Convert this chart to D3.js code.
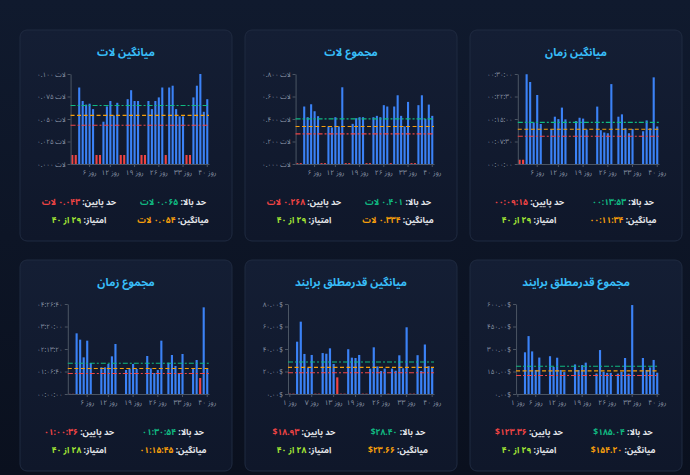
<!DOCTYPE html>
<html>
<head>
<meta charset="utf-8">
<script src="https://cdn.jsdelivr.net/npm/d3@7"></script>
<style>
  html, body { margin: 0; padding: 0; background: #0d1527; }
  svg { display: block; font-family: "Noto Sans Arabic", "Noto Naskh Arabic", "DejaVu Sans", sans-serif; }
</style>
</head>
<body>
<div id="board"></div>
<script>
var svgWidth = 690;
var svgHeight = 475;

// days on the x axis
var dayNums = d3.range(1, 41);

// series values (0 = no trading that day)
var avgTime = [85, 85, 1795, 1640, 830, 1380, 800, 0, 0, 697, 946, 898, 1128, 892, 0, 0, 858, 925, 908, 690, 0, 0,
  1148, 676, 630, 615, 1598, 0, 946, 993, 715, 615, 700, 0, 0, 655, 872, 715, 1733, 750];
var totalLot = [0.008, 0.008, 0.511, 0.416, 0.531, 0.469, 0.425, 0.008, 0.008, 0.334, 0.325, 0.416, 0.334, 0.682, 0.008, 0.008,
  0.357, 0.407, 0.416, 0.416, 0.008, 0.008, 0.416, 0.428, 0.416, 0.523, 0.511, 0.008, 0.511, 0.611, 0.428, 0.334, 0.552,
  0.008, 0.008, 0.523, 0.611, 0.401, 0.528, 0.428];
var avgLot = [0.010, 0.010, 0.085, 0.070, 0.066, 0.067, 0.061, 0.010, 0.010, 0.047, 0.064, 0.070, 0.054, 0.068, 0.010, 0.010,
  0.072, 0.082, 0.070, 0.070, 0.010, 0.010, 0.070, 0.061, 0.070, 0.074, 0.085, 0.010, 0.085, 0.087, 0.061, 0.053, 0.053,
  0.010, 0.010, 0.074, 0.087, 0.100, 0.058, 0.072];
var totalAbs = [0, 0, 278, 386, 284, 160, 243, 0, 0, 252, 180, 242, 160, 146, 0, 0, 197, 160, 193, 209, 0, 0,
  137, 293, 148, 141, 141, 0, 136, 148, 240, 136, 593, 0, 0, 240, 160, 177, 227, 142];
var avgAbs = [0.3, 0.3, 46.5, 64.3, 35.6, 23.2, 34.7, 0.3, 0.3, 36.4, 35.8, 40.6, 26.7, 14.8, 0.3, 0.3, 39.8, 32.3, 32.0, 34.7,
  0.3, 0.3, 22.5, 41.5, 24.5, 20.4, 22.6, 0.3, 22.6, 20.7, 34.4, 22.8, 59.3, 0.3, 0.3, 34.5, 20.5, 44.0, 24.8, 24.0];
var totalTime = [30, 30, 10785, 9659, 6519, 9482, 5511, 0, 0, 4741, 4741, 5333, 6696, 8889, 0, 0, 4267, 4444, 5333, 4444, 0, 0,
  6756, 4563, 3733, 4267, 9482, 0, 5570, 6933, 4978, 3674, 7111, 0, 0, 4444, 6044, 2844, 15407, 4444];

// panel titles, right to left
var titles = ["میانگین زمان", "مجموع لات", "میانگین لات", "مجموع قدرمطلق برایند", "میانگین قدرمطلق برایند", "مجموع زمان"];

// stats shown under each chart
var highs = [833, 0.401, 0.065, 185.04, 28.40, 5454];
var lows = [555, 0.268, 0.043, 123.36, 18.93, 3636];
var avgs = [694, 0.334, 0.054, 154.20, 23.66, 4545];
var scores = [29, 29, 29, 29, 28, 28];

// y tick labels
var yTicks = [
  [0, 450, 900, 1350, 1800],
  [0, 0.2, 0.4, 0.6, 0.8],
  [0, 0.025, 0.05, 0.075, 0.1],
  [0, 150, 300, 450, 600],
  [0, 20, 40, 60, 80],
  [0, 4000, 8000, 12000, 16000]
];
// x tick labels (day numbers)
var xTicks = [
  [6, 12, 19, 26, 33, 40],
  [6, 12, 19, 26, 33, 40],
  [6, 12, 19, 26, 33, 40],
  [1, 6, 12, 19, 26, 33, 40],
  [1, 7, 13, 19, 26, 33, 40],
  [6, 12, 19, 26, 33, 40]
];

var series = [avgTime, totalLot, avgLot, totalAbs, avgAbs, totalTime];
var kinds = ["time", "lot", "lot", "usd", "usd", "time"];

function fa(s) {
  return String(s).replace(/\d/g, function(d) { return "۰۱۲۳۴۵۶۷۸۹"[+d]; });
}
function hms(sec) {
  sec = Math.round(sec);
  var h = Math.floor(sec / 3600), m = Math.floor((sec % 3600) / 60), s = sec % 60;
  return fa([h, m, s].map(function(v) { return String(v).padStart(2, "0"); }).join(":"));
}
var axisFmt = {
  time: hms,
  lot: function(v) { return fa(v.toFixed(3)) + " لات"; },
  usd: function(v) { return fa(v.toFixed(2)) + "$"; }
};
// LRI ... PDI keeps the dollar sign on the left inside rtl text
var statFmt = {
  time: hms,
  lot: function(v) { return fa(v.toFixed(3)) + " لات"; },
  usd: function(v) { return "\u2066$" + fa(v.toFixed(2)) + "\u2069"; }
};

var svg = d3.select("#board")
  .append("svg")
  .attr("width", svgWidth)
  .attr("height", svgHeight);

var defs = svg.append("defs");
var bg = defs.append("linearGradient").attr("id", "bg").attr("x1", 0).attr("y1", 0).attr("x2", 0).attr("y2", 1);
bg.append("stop").attr("offset", "0%").attr("stop-color", "#101a2e");
bg.append("stop").attr("offset", "100%").attr("stop-color", "#0a101e");
var pg = defs.append("linearGradient").attr("id", "panel").attr("x1", 0).attr("y1", 0).attr("x2", 0).attr("y2", 1);
pg.append("stop").attr("offset", "0%").attr("stop-color", "#141e34");
pg.append("stop").attr("offset", "100%").attr("stop-color", "#0f172a");

svg.append("rect").attr("width", svgWidth).attr("height", svgHeight).attr("fill", "url(#bg)");

var panelW = 212, panelH = 211;
var plotTop = 44, plotBottom = 134, plotRight = 189;

series.forEach(function(data, k) {
  var col = 2 - (k % 3);
  var row = Math.floor(k / 3);
  var px = 20 + col * 225;
  var py = row === 0 ? 30 : 260;
  var fmt = axisFmt[kinds[k]];
  var sfmt = statFmt[kinds[k]];
  var ticks = yTicks[k];

  var g = svg.append("g").attr("transform", `translate(${px}, ${py})`);

  g.append("rect")
    .attr("width", panelW)
    .attr("height", panelH)
    .attr("rx", 7)
    .attr("fill", "url(#panel)")
    .attr("stroke", "#1f2a40")
    .attr("stroke-width", 1);

  g.append("text")
    .attr("x", panelW / 2)
    .attr("y", 26)
    .attr("text-anchor", "middle")
    .attr("direction", "rtl")
    .attr("font-size", 11)
    .attr("font-weight", "bold")
    .attr("fill", "#38bdf8")
    .text(titles[k]);

  // measure widest y label to place the plot
  var probe = g.append("text").attr("font-size", 6.5).text(fmt(ticks[ticks.length - 1]));
  var labelW = probe.node().getComputedTextLength();
  probe.remove();
  var plotLeft = Math.max(16 + labelW + 6, 43);

  var x = d3.scaleBand()
    .domain(dayNums)
    .range([plotLeft, plotRight])
    .paddingInner(0.4)
    .paddingOuter(0.2);

  var y = d3.scaleLinear()
    .domain([0, ticks[ticks.length - 1]])
    .range([plotBottom, plotTop]);

  // bars
  g.append("g").selectAll("rect")
    .data(data)
    .enter()
    .append("rect")
    .attr("x", function(d, i) { return x(dayNums[i]); })
    .attr("y", function(d) { return y(d); })
    .attr("width", x.bandwidth())
    .attr("height", function(d) { return y(0) - y(d); })
    .attr("fill", function(d) { return d < lows[k] ? "#ef4444" : "#3b82f6"; });

  // axes
  var yAxis = g.append("g")
    .attr("transform", `translate(${plotLeft}, 0)`)
    .call(d3.axisLeft(y).tickValues(ticks).tickFormat(fmt).tickSize(3).tickSizeOuter(0).tickPadding(2));
  yAxis.select(".domain").attr("stroke", "#4b5563");
  yAxis.selectAll(".tick line").attr("stroke", "#4b5563");
  yAxis.selectAll("text")
    .attr("fill", "#8b95a7")
    .attr("font-size", 6.5)
    .attr("font-family", null)
    .attr("direction", "ltr");

  var xAxis = g.append("g")
    .attr("transform", `translate(0, ${plotBottom})`)
    .call(d3.axisBottom(x).tickValues(xTicks[k]).tickFormat(function(d) { return "روز " + fa(d); })
      .tickSize(3).tickSizeOuter(0).tickPadding(3));
  xAxis.select(".domain").attr("stroke", "#4b5563");
  xAxis.selectAll(".tick line").attr("stroke", "#4b5563");
  xAxis.selectAll("text")
    .attr("fill", "#8b95a7")
    .attr("font-size", 7)
    .attr("font-family", null)
    .attr("direction", "rtl");
  yAxis.attr("font-family", null);
  xAxis.attr("font-family", null);

  // threshold lines
  var lines = [
    { v: highs[k], c: "#10b981", dash: "5,2,2,2" },
    { v: avgs[k], c: "#f59e0b", dash: "4,2.5" },
    { v: lows[k], c: "#ef4444", dash: "5,2,2,2" }
  ];
  g.append("g").selectAll("line")
    .data(lines)
    .enter()
    .append("line")
    .attr("x1", plotLeft)
    .attr("x2", plotRight)
    .attr("y1", function(d) { return y(d.v); })
    .attr("y2", function(d) { return y(d.v); })
    .attr("stroke", function(d) { return d.c; })
    .attr("stroke-width", 1.1)
    .attr("stroke-dasharray", function(d) { return d.dash; });

  // stats
  var stats = [
    { cx: 153, cy: 175, label: "حد بالا: ", val: sfmt(highs[k]), c: "#10b981" },
    { cx: 59, cy: 175, label: "حد پایین: ", val: sfmt(lows[k]), c: "#ef4444" },
    { cx: 153, cy: 193, label: "میانگین: ", val: sfmt(avgs[k]), c: "#f59e0b" },
    { cx: 59, cy: 193, label: "امتیاز: ", val: fa(scores[k]) + " از " + fa(40), c: "#a3e635" }
  ];
  stats.forEach(function(s) {
    var t = g.append("text")
      .attr("x", s.cx)
      .attr("y", s.cy)
      .attr("text-anchor", "middle")
      .attr("direction", "rtl")
      .attr("font-size", 8.5)
      .attr("font-weight", "bold");
    t.append("tspan").attr("fill", "#e5e7eb").text(s.label);
    t.append("tspan").attr("fill", s.c).text(s.val);
  });
});
</script>
</body>
</html>
